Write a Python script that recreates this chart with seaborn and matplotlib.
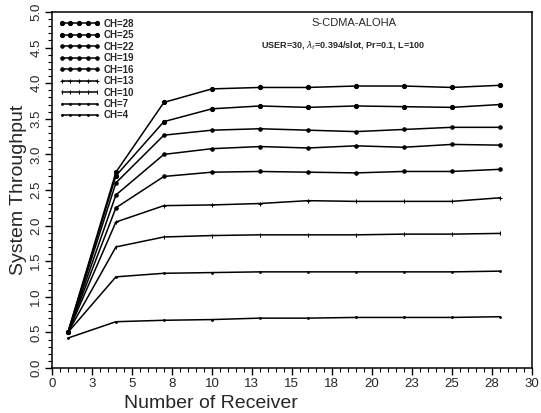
import numpy as np
import pandas as pd
import matplotlib
matplotlib.use("Agg")
import matplotlib.pyplot as plt
import seaborn as sns

# data
receivers = [1, 4, 7, 10, 13, 16, 19, 22, 25, 28]
ch28 = [0.50, 2.75, 3.73, 3.92, 3.94, 3.94, 3.96, 3.96, 3.94, 3.97]
ch25 = [0.50, 2.70, 3.46, 3.64, 3.68, 3.66, 3.68, 3.67, 3.66, 3.70]
ch22 = [0.50, 2.60, 3.27, 3.34, 3.36, 3.34, 3.32, 3.35, 3.38, 3.38]
ch19 = [0.50, 2.43, 3.00, 3.08, 3.11, 3.09, 3.12, 3.10, 3.14, 3.13]
ch16 = [0.50, 2.25, 2.69, 2.75, 2.76, 2.75, 2.74, 2.76, 2.76, 2.79]
ch13 = [0.50, 2.05, 2.28, 2.29, 2.31, 2.35, 2.34, 2.34, 2.34, 2.39]
ch10 = [0.50, 1.70, 1.84, 1.86, 1.87, 1.87, 1.87, 1.88, 1.88, 1.89]
ch7 = [0.50, 1.28, 1.33, 1.34, 1.35, 1.35, 1.35, 1.35, 1.35, 1.36]
ch4 = [0.42, 0.65, 0.67, 0.68, 0.70, 0.70, 0.71, 0.71, 0.71, 0.72]

series = {"CH=28": ch28, "CH=25": ch25, "CH=22": ch22, "CH=19": ch19,
          "CH=16": ch16, "CH=13": ch13, "CH=10": ch10, "CH=7": ch7, "CH=4": ch4}
markers = {"CH=28": "o", "CH=25": "o", "CH=22": "o", "CH=19": "o",
           "CH=16": "o", "CH=13": "+", "CH=10": "|", "CH=7": ".", "CH=4": "."}
msizes = {"CH=28": 3, "CH=25": 3, "CH=22": 2.5, "CH=19": 2.5,
          "CH=16": 2.5, "CH=13": 3.5, "CH=10": 2.5, "CH=7": 2.5, "CH=4": 2.5}

xticks = [0, 2.5, 5, 7.5, 10, 12.5, 15, 17.5, 20, 22.5, 25, 27.5, 30]
xticklabels = ["0", "3", "5", "8", "10", "13", "15", "18", "20", "23", "25", "28", "30"]
yticks = [0.0, 0.5, 1.0, 1.5, 2.0, 2.5, 3.0, 3.5, 4.0, 4.5, 5.0]

sns.set_style("ticks")
plt.rcParams["font.family"] = ["Liberation Sans", "DejaVu Sans"]

fig = plt.figure(figsize=(5.41, 4.13), dpi=100)
ax = fig.add_axes([0.096, 0.109, 0.887, 0.862])

for name, vals in series.items():
    sns.lineplot(x=receivers, y=vals, ax=ax, color="black", linewidth=1.1,
                 marker=markers[name], markersize=msizes[name],
                 markeredgecolor="black", markerfacecolor="black",
                 label=name)

ax.set_xlim(0, 30)
ax.set_ylim(0, 5)
ax.set_xticks(xticks)
ax.set_xticklabels(xticklabels, fontsize=9.5)
ax.set_yticks(yticks)
ax.set_yticklabels([f"{v:.1f}" for v in yticks], fontsize=9.5, rotation=90, va="center")
ax.set_xticks(np.arange(0, 30.01, 0.5), minor=True)
ax.set_yticks(np.arange(0, 5.01, 0.1), minor=True)
ax.tick_params(axis="both", which="major", length=5, width=1, color="black", pad=2)
ax.tick_params(axis="both", which="minor", length=3, width=0.8, color="black")
for s in ax.spines.values():
    s.set_color("black")
    s.set_linewidth(1.1)

ax.set_xlabel("Number of Receiver", fontsize=14, labelpad=0)
ax.xaxis.set_label_coords(0.15, -0.075)
ax.xaxis.label.set_horizontalalignment("left")
ax.set_ylabel("System Throughput", fontsize=14, labelpad=2)

ax.text(18.9, 4.85, "S-CDMA-ALOHA", fontsize=8, ha="center", va="center")
ax.text(13.1, 4.53, r"USER=30, $\lambda_t$=0.394/slot, Pr=0.1, L=100",
        fontsize=6.5, fontweight="bold", ha="left", va="center")

leg = ax.legend(loc="upper left", numpoints=5, frameon=False,
                handlelength=4.2, handletextpad=0.4, labelspacing=0.15,
                borderaxespad=0.3, prop={"weight": "bold", "size": 7})

plt.savefig("out.png", dpi=100)
